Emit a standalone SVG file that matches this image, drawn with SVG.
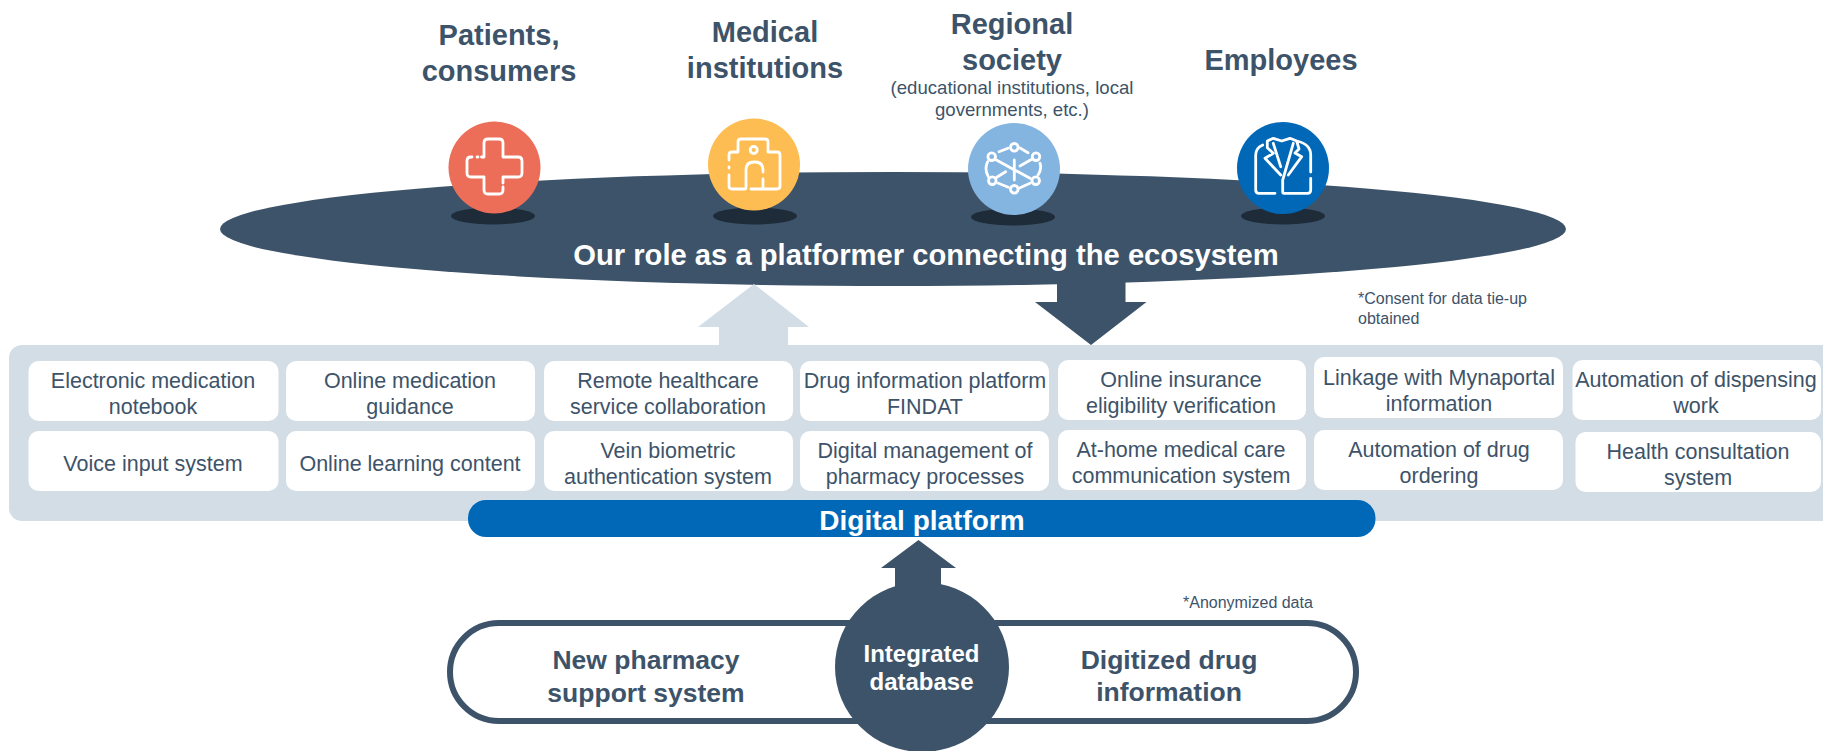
<svg xmlns="http://www.w3.org/2000/svg" width="1823" height="751" viewBox="0 0 1823 751">
<style>
text{font-family:"Liberation Sans",Arial,sans-serif;fill:#3d5369;text-anchor:middle}
.c{font-size:21.500px}
.h{font-size:29px;font-weight:bold}
.b{font-size:26.500px;font-weight:bold}
.w{fill:#fff;font-weight:bold}
.n{text-anchor:start;font-size:16px}
.s{font-size:18.600px}
.card{fill:#fff}
.ic{fill:none;stroke:#fff;stroke-width:2.800;stroke-linecap:round;stroke-linejoin:round}
.sh{fill:#1e2b38}
</style>
<rect width="1823" height="751" fill="#fff"/>
<g id="ecosystem-ellipse"><ellipse cx="893" cy="229" rx="673" ry="57" fill="#3d5369"/><text class="w" x="926" y="265" style="font-size:29.200px">Our role as a platformer connecting the ecosystem</text></g>
<g id="connectors">
<path id="arrow-up" d="M754 284L809 327H788V350H719V327H698Z" fill="#d3dde6"/>
<path id="arrow-down" d="M1057 280H1125.500V302H1146.500L1091 345L1035 302H1057Z" fill="#3d5369"/>
<path id="arrow-db" d="M918.500 540L956 568H941V600H895V568H881Z" fill="#3d5369"/>
</g>
<g id="panel"><rect x="9" y="345" width="1830" height="176" rx="13" fill="#d3dde6"/></g>
<g id="card-1"><rect class="card" x="28.500" y="361" width="250" height="60" rx="10"/><text class="c" x="153" y="388">Electronic medication</text><text class="c" x="153" y="414">notebook</text></g>
<g id="card-2"><rect class="card" x="286" y="361" width="249" height="60" rx="10"/><text class="c" x="410" y="388">Online medication</text><text class="c" x="410" y="414">guidance</text></g>
<g id="card-3"><rect class="card" x="544" y="361" width="249" height="60" rx="10"/><text class="c" x="668" y="388">Remote healthcare</text><text class="c" x="668" y="414">service collaboration</text></g>
<g id="card-4"><rect class="card" x="800" y="361" width="249" height="60" rx="10"/><text class="c" x="925" y="388">Drug information platform</text><text class="c" x="925" y="414">FINDAT</text></g>
<g id="card-5"><rect class="card" x="1058" y="360" width="248" height="60" rx="10"/><text class="c" x="1181" y="387">Online insurance</text><text class="c" x="1181" y="413">eligibility verification</text></g>
<g id="card-6"><rect class="card" x="1314" y="357" width="249" height="61" rx="10"/><text class="c" x="1439" y="385">Linkage with Mynaportal</text><text class="c" x="1439" y="411">information</text></g>
<g id="card-7"><rect class="card" x="1572.500" y="360" width="248.500" height="60" rx="10"/><text class="c" x="1696" y="387">Automation of dispensing</text><text class="c" x="1696" y="413">work</text></g>
<g id="card-8"><rect class="card" x="28.500" y="431" width="250" height="60" rx="10"/><text class="c" x="153" y="471">Voice input system</text></g>
<g id="card-9"><rect class="card" x="286" y="431" width="249" height="60" rx="10"/><text class="c" x="410" y="471">Online learning content</text></g>
<g id="card-10"><rect class="card" x="544" y="431" width="249" height="60" rx="10"/><text class="c" x="668" y="458">Vein biometric</text><text class="c" x="668" y="484">authentication system</text></g>
<g id="card-11"><rect class="card" x="800" y="431" width="249" height="60" rx="10"/><text class="c" x="925" y="458">Digital management of</text><text class="c" x="925" y="484">pharmacy processes</text></g>
<g id="card-12"><rect class="card" x="1058" y="430" width="248" height="60" rx="10"/><text class="c" x="1181" y="457">At-home medical care</text><text class="c" x="1181" y="483">communication system</text></g>
<g id="card-13"><rect class="card" x="1314" y="430" width="249" height="60" rx="10"/><text class="c" x="1439" y="457">Automation of drug</text><text class="c" x="1439" y="483">ordering</text></g>
<g id="card-14"><rect class="card" x="1575.500" y="432" width="245.500" height="60" rx="10"/><text class="c" x="1698" y="459">Health consultation</text><text class="c" x="1698" y="485">system</text></g>
<g id="digital-platform"><rect x="468" y="500" width="907.500" height="37" rx="18" fill="#0068b7"/><text class="w" x="922" y="530" style="font-size:28px">Digital platform</text></g>
<g id="patients">
<text class="h" x="499" y="45">Patients,</text><text class="h" x="499" y="81">consumers</text>
<ellipse class="sh" cx="493" cy="216" rx="42" ry="8.500"/><circle cx="494.500" cy="167.500" r="46" fill="#ed6e58"/>
<path class="ic" d="M484 157V143q0-4 4-4h11q4 0 4 4v14h15q4 0 4 4v12q0 4-4 4h-15v6M503 187v3q0 4-4 4h-11q-4 0-4-4v-13h-13q-4 0-4-4v-12q0-4 4-4h1"/><path class="ic" d="M477 157h1M481.500 157h2"/>
</g>
<g id="medical">
<text class="h" x="765" y="42">Medical</text><text class="h" x="765" y="78">institutions</text>
<ellipse class="sh" cx="755" cy="216" rx="42" ry="8.500"/><circle cx="754" cy="164.500" r="46" fill="#fdbd52"/>
<path class="ic" d="M729 160V155q0-3 3-3h6V142q0-3 3-3h24q3 0 3 3v10h9q3 0 3 3v31q0 3-3 3H751M729 167v1M729 175v11q0 3 3 3h13q1 0 1-2V170q0-8 8-8h1q8 0 8 8v2M763 179v10"/><circle class="ic" cx="753.700" cy="150" r="3.500"/>
</g>
<g id="regional">
<text class="h" x="1012" y="34">Regional</text><text class="h" x="1012" y="70">society</text>
<text class="s" x="1012" y="94">(educational institutions, local</text><text class="s" x="1012" y="116">governments, etc.)</text>
<ellipse class="sh" cx="1013" cy="217" rx="42" ry="8.500"/><circle cx="1014" cy="169" r="46" fill="#84b4e0"/>
<g class="ic"><circle cx="1014.300" cy="147.300" r="3.800"/><circle cx="1036" cy="156.700" r="3.800"/><circle cx="1035.700" cy="180.700" r="3.800"/><circle cx="1014.300" cy="189.300" r="3.800"/><circle cx="992.300" cy="180.700" r="3.800"/><circle cx="991.700" cy="156.700" r="3.800"/>
<path d="M999 151.700L1008 148.300M1020 148L1028 152.700M1040 163.300Q1042 169 1038 175M1030 183.300L1019 188.300M1008.300 187.300L998.300 183.300M988.300 176.700Q984 169 987.700 161.700M1014.300 160V180M995 159.300L1030 178.300M1031.700 159.300L1020 166M1005.700 171.700L996.700 177.300"/></g>
</g>
<g id="employees">
<text class="h" x="1281" y="70">Employees</text>
<ellipse class="sh" cx="1283" cy="216" rx="42" ry="8.500"/><circle cx="1283" cy="168" r="46" fill="#0068b7"/>
<path class="ic" d="M1262.700 145Q1255.700 148 1255.700 155V190q0 3.300 3.300 3.300H1275M1310.700 178.300V190q0 3.300-3.300 3.300H1284q-1.300 0-1.300-1.500V180L1293.300 143.300M1280.700 175L1265 158.300L1273.300 153.300L1267.300 147.700V141L1273.300 138.300L1281.700 141L1290 138.300L1296.700 141L1299 149L1295 153L1301.700 156.700L1288.300 175M1273.300 143.300L1280.700 166.700M1296.700 141Q1310.700 144 1310.700 155V172"/>
</g>
<g id="notes">
<text class="n" x="1358" y="304">*Consent for data tie-up</text><text class="n" x="1358" y="324">obtained</text>
<text class="n" x="1183" y="608">*Anonymized data</text>
</g>
<g id="source-pill"><rect x="450" y="623" width="906" height="98" rx="49" fill="#fff" stroke="#3d5369" stroke-width="6"/>
<text class="b" x="646" y="669">New pharmacy</text><text class="b" x="646" y="702">support system</text>
<text class="b" x="1169" y="669">Digitized drug</text><text class="b" x="1169" y="701">information</text></g>
<g id="integrated-database"><ellipse cx="922" cy="667" rx="87" ry="85" fill="#3d5369"/>
<text class="w" x="921.500" y="662" style="font-size:24px">Integrated</text><text class="w" x="921.500" y="690" style="font-size:24px">database</text></g>
</svg>
